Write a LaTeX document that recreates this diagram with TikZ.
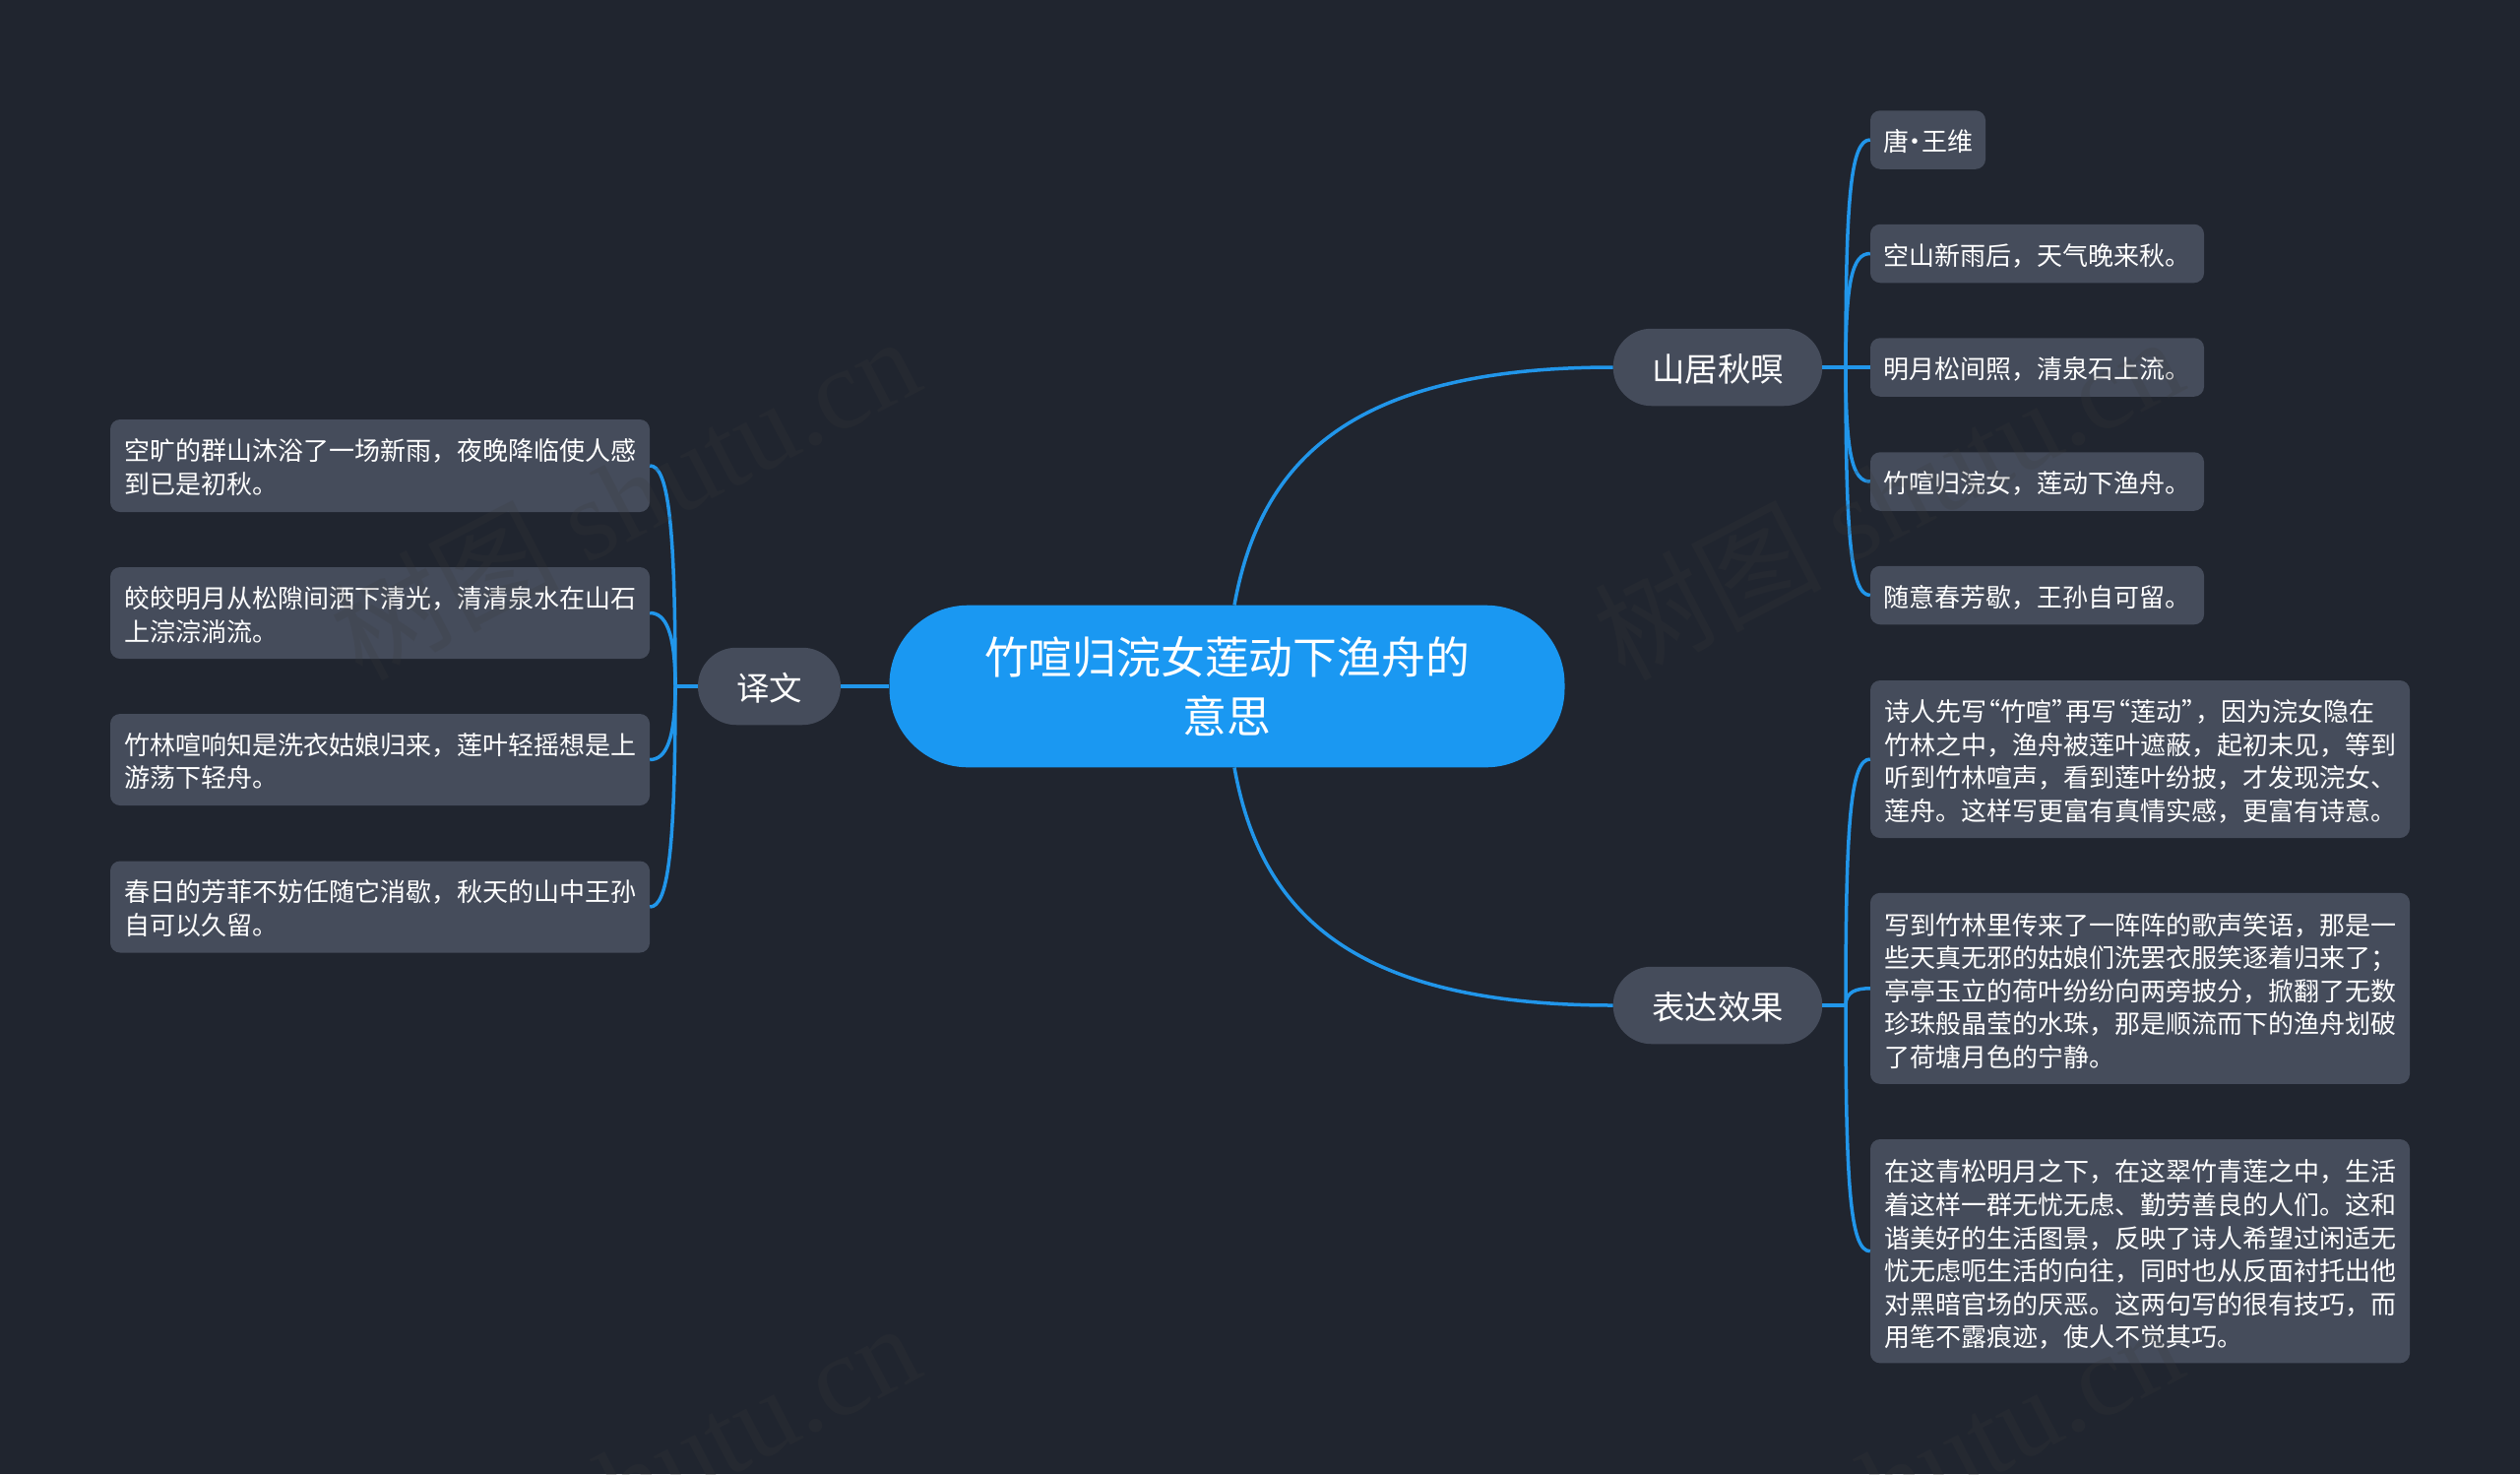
\documentclass[tikz,border=0pt]{standalone}
\usepackage{fontspec}
\setmainfont{Noto Sans CJK SC}
\newfontfamily\wmlatin{Liberation Serif}
\definecolor{bgc}{HTML}{20252F}
\definecolor{nodec}{HTML}{454C5B}
\definecolor{rootc}{HTML}{1A98F2}
\definecolor{linkc}{HTML}{2196EA}
\definecolor{wmc}{HTML}{3A3A3A}
\newcommand{\oq}{\makebox[14pt][r]{“}}
\newcommand{\cq}{\makebox[14pt][l]{”}}
\newcommand{\mdot}{\makebox[13pt][c]{·}}
\newcommand{\fl}[1]{\rule{0pt}{#1}}
\tikzset{
  leaf/.style={rectangle,rounded corners=10pt,fill=nodec,text=white,inner sep=0pt,align=left,
    font=\fontsize{26}{33.6}\selectfont},
  branch/.style={rectangle,rounded corners=39pt,fill=nodec,text=white,inner sep=0pt,align=center,
    minimum height=78.5pt,font=\fontsize{33.4}{40}\selectfont},
  rootnode/.style={rectangle,rounded corners=80pt,fill=rootc,text=white,inner sep=0pt,align=center,
    font=\fontsize{44.8}{59.5}\selectfont},
  link/.style={draw=linkc,line width=3.5pt},
  wm/.style={text=wmc,text opacity=.2,inner sep=0pt,rotate=27.5,
    font=\fontsize{116}{116}\selectfont},
}
\begin{document}
\begin{tikzpicture}[x=1pt,y=-1pt]
\fill[bgc] (0,0) rectangle (2560,1497);
\useasboundingbox (0,0) rectangle (2560,1497);

% nodes
\node[rootnode,minimum width=686pt,minimum height=164.6pt] (root) at (1246.5,697) {竹喧归浣女莲动下渔舟的\\意思};
\node[branch,minimum width=212.5pt] (b1) at (1745,373) {\fl{32.5pt}山居秋暝};
\node[branch,minimum width=212.5pt] (b2) at (1745,1021) {\fl{32.5pt}表达效果};
\node[branch,minimum width=145pt] (b3) at (781.5,697) {\fl{31pt}译文};

\node[leaf,minimum width=117pt,minimum height=59.5pt] (a1) at (1958.5,142) {\fl{26pt}唐\mdot 王维};
\node[leaf,minimum width=339pt,minimum height=59.5pt] (a2) at (2069.5,257.5) {\fl{26pt}空山新雨后，天气晚来秋。};
\node[leaf,minimum width=339pt,minimum height=59.5pt] (a3) at (2069.5,373) {\fl{26pt}明月松间照，清泉石上流。};
\node[leaf,minimum width=339pt,minimum height=59.5pt] (a4) at (2069.5,489) {\fl{26pt}竹喧归浣女，莲动下渔舟。};
\node[leaf,minimum width=339pt,minimum height=59.5pt] (a5) at (2069.5,604.5) {\fl{26pt}随意春芳歇，王孙自可留。};

\node[leaf,minimum width=548pt,minimum height=160pt] (c1) at (2174,771) {\fl{26.5pt}诗人先写\oq 竹喧\cq 再写\oq 莲动\cq ，因为浣女隐在\\竹林之中，渔舟被莲叶遮蔽，起初未见，等到\\听到竹林喧声，看到莲叶纷披，才发现浣女、\\莲舟。这样写更富有真情实感，更富有诗意。};
\node[leaf,minimum width=548pt,minimum height=194pt] (c2) at (2174,1003.8) {\fl{27pt}写到竹林里传来了一阵阵的歌声笑语，那是一\\些天真无邪的姑娘们洗罢衣服笑逐着归来了；\\亭亭玉立的荷叶纷纷向两旁披分，掀翻了无数\\珍珠般晶莹的水珠，那是顺流而下的渔舟划破\\了荷塘月色的宁静。};
\node[leaf,minimum width=548pt,minimum height=227.4pt] (c3) at (2174,1270.7) {\fl{29pt}在这青松明月之下，在这翠竹青莲之中，生活\\着这样一群无忧无虑、勤劳善良的人们。这和\\谐美好的生活图景，反映了诗人希望过闲适无\\忧无虑呃生活的向往，同时也从反面衬托出他\\对黑暗官场的厌恶。这两句写的很有技巧，而\\用笔不露痕迹，使人不觉其巧。};

\node[leaf,minimum width=548pt,minimum height=94pt] (d1) at (386,473) {\fl{25.5pt}空旷的群山沐浴了一场新雨，夜晚降临使人感\\到已是初秋。};
\node[leaf,minimum width=548pt,minimum height=93pt] (d2) at (386,622.5) {\fl{25.5pt}皎皎明月从松隙间洒下清光，清清泉水在山石\\上淙淙淌流。};
\node[leaf,minimum width=548pt,minimum height=93pt] (d3) at (386,771.5) {\fl{25.5pt}竹林喧响知是洗衣姑娘归来，莲叶轻摇想是上\\游荡下轻舟。};
\node[leaf,minimum width=548pt,minimum height=93pt] (d4) at (386,921) {\fl{25.5pt}春日的芳菲不妨任随它消歇，秋天的山中王孙\\自可以久留。};

% connector hubs
\coordinate (h1) at (1875,373);
\coordinate (h2) at (1875,1021);
\coordinate (h3) at (686,697);

% root connectors
\draw[link] ([xshift=7.5pt]root.north) .. controls +(26,-145) and +(-268,0) .. (b1.west);
\draw[link] ([xshift=7.5pt]root.south) .. controls +(26,145) and +(-268,0) .. (b2.west);
\draw[link] (root.west) -- (b3.east);

% branch 1
\draw[link] (b1.east) -- (a3.west);
\draw[link] (h1) .. controls +(0,-170) and +(-20,0) .. (a1.west);
\draw[link] (h1) .. controls +(0,-88) and +(-18,0) .. (a2.west);
\draw[link] (h1) .. controls +(0,88) and +(-18,0) .. (a4.west);
\draw[link] (h1) .. controls +(0,170) and +(-20,0) .. (a5.west);

% branch 2
\draw[link] (b2.east) -- (h2);
\draw[link] (h2) .. controls +(0,-185) and +(-20,0) .. (c1.west);
\draw[link] (h2) .. controls +(0,-14) and +(-14,0) .. (c2.west);
\draw[link] (h2) .. controls +(0,185) and +(-20,0) .. (c3.west);

% branch 3
\draw[link] (b3.west) -- (h3);
\draw[link] (h3) .. controls +(0,-170) and +(18,0) .. (d1.east);
\draw[link] (h3) .. controls +(0,-55) and +(16,0) .. (d2.east);
\draw[link] (h3) .. controls +(0,55) and +(16,0) .. (d3.east);
\draw[link] (h3) .. controls +(0,170) and +(18,0) .. (d4.east);

% watermarks
\begin{scope}
\clip (0,0) rectangle (2560,1497);
\node[wm] (w1) at (634,504) {树图 {\wmlatin shutu.cn}};
\node[wm] (w2) at (1917,504) {树图 {\wmlatin shutu.cn}};
\node[wm] (w3) at (634,1506) {树图 {\wmlatin shutu.cn}};
\node[wm] (w4) at (1917,1506) {树图 {\wmlatin shutu.cn}};
\end{scope}
\end{tikzpicture}
\end{document}
